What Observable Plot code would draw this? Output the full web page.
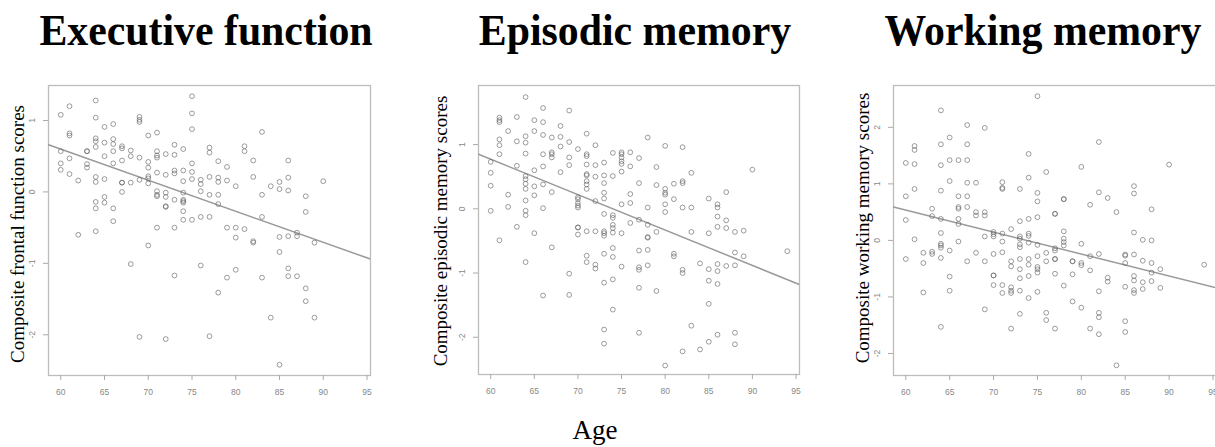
<!DOCTYPE html>
<html>
<head>
<meta charset="utf-8">
<script src="https://cdn.jsdelivr.net/npm/d3@7"></script>
<script src="https://cdn.jsdelivr.net/npm/@observablehq/plot@0.6"></script>
<style>
  html, body { margin: 0; padding: 0; background: #fff; overflow: hidden; }
  #root { position: relative; width: 1215px; height: 447px; overflow: hidden;
          font-family: "Liberation Serif", "Times New Roman", serif; color: #000; }
  .title { position: absolute; top: 9px; font-weight: bold; font-size: 44px; line-height: 1;
           white-space: nowrap; transform: translateX(-50%) scaleX(0.95); transform-origin: 50% 50%; }
  .ylab { position: absolute; font-size: 19px; line-height: 1; white-space: nowrap;
          transform: translate(-50%, -50%) rotate(-90deg); }
  .xlab { position: absolute; font-size: 27px; line-height: 1; white-space: nowrap;
          transform: translateX(-50%); }
  .panel { position: absolute; }
</style>
</head>
<body>
<div id="root"></div>
<script>
// ---------- data ----------
const panelTitles = ["Executive function", "Episodic memory", "Working memory"];
const yLabels = ["Composite frontal function scores", "Composite episodic memory scores", "Composite working memory scores"];
const xLabel = "Age";
const xTicks = [60, 65, 70, 75, 80, 85, 90, 95];

// Executive function: ages and the scores observed at each age
const efAges = [60, 61, 62, 63, 64, 65, 66, 67, 68, 69, 70, 71, 72, 73, 74, 75, 76, 77, 78, 79, 80, 81, 82, 83, 84, 85, 86, 87, 88, 89, 90];
const efScores = [
  [1.08, 0.57, 0.40, 0.31],
  [1.20, 0.82, 0.79, 0.47, 0.25],
  [0.16, -0.60],
  [0.57, 0.57, 0.39, 0.34],
  [1.28, 1.04, 0.75, 0.71, 0.63, 0.21, 0.14, -0.14, -0.23, -0.55],
  [0.91, 0.69, 0.50, 0.18, -0.07, -0.15],
  [0.95, 0.74, 0.67, 0.57, 0.40, -0.23, -0.41],
  [0.64, 0.61, 0.44, 0.13, 0.13, 0.00],
  [0.58, 0.50, 0.13, -1.01],
  [1.05, 1.01, 0.98, 0.48, 0.17, -2.03],
  [0.79, 0.42, 0.34, 0.22, 0.19, 0.12, -0.75],
  [0.83, 0.57, 0.51, 0.48, 0.27, 0.01, -0.04, -0.06, -0.50],
  [0.53, 0.24, -0.01, -0.07, -0.20, -0.21, -2.06],
  [0.66, 0.52, 0.30, 0.26, -0.11, -0.50, -1.17],
  [0.60, 0.30, 0.15, -0.01, -0.11, -0.13, -0.15, -0.27, -0.39],
  [1.34, 1.10, 0.88, 0.40, 0.28, 0.18, -0.39],
  [0.17, 0.11, 0.01, -0.35, -1.03],
  [0.62, 0.55, 0.21, -0.04, -0.35, -2.02],
  [0.43, 0.20, 0.14, -0.04, -0.17, -1.41],
  [0.35, 0.16, -0.50, -1.20],
  [0.08, -0.50, -0.64, -1.09],
  [0.64, 0.57, -0.52],
  [0.44, 0.21, -0.69, -0.71],
  [0.84, -0.04, -0.35, -1.20],
  [0.08, -1.76],
  [0.14, 0.04, -0.63, -0.84, -2.42],
  [0.44, 0.20, 0.02, -0.62, -1.07, -1.18],
  [-0.57, -0.62, -1.18],
  [-0.06, -0.28, -1.35, -1.53],
  [-0.71, -1.76],
  [0.15]
];

// Episodic memory
const emAges = [60, 61, 62, 63, 64, 65, 66, 67, 68, 69, 70, 71, 72, 73, 74, 75, 76, 77, 78, 79, 80, 81, 82, 83, 84, 85, 86, 87, 88, 89, 90, 94];
const emScores = [
  [0.73, 0.56, 0.36, -0.03],
  [1.42, 1.38, 1.35, 1.08, 0.99, 0.85, -0.49],
  [1.21, 0.22, 0.03],
  [1.43, 1.05, 0.67, -0.28],
  [1.74, 1.13, 1.03, 0.86, 0.51, 0.46, 0.39, 0.31, 0.13, -0.03, -0.10, -0.83],
  [1.38, 1.21, 0.60, 0.35, 0.21, -0.38],
  [1.57, 1.35, 1.15, 0.85, 0.66, 0.38, 0.01, -1.35],
  [1.11, 0.88, 0.85, 0.80, 0.26, -0.60],
  [1.29, 1.12, 0.97, 0.57],
  [1.53, 1.04, 0.80, 0.68, -1.01, -1.34],
  [0.93, 0.18, 0.15, 0.09, 0.05, 0.02, -0.29, -0.29, -0.40],
  [1.17, 0.85, 0.82, 0.69, 0.54, 0.52, 0.43, 0.38, 0.31, -0.35, -0.73, -0.83],
  [0.99, 0.68, 0.50, 0.12, -0.35, -0.87, -0.93],
  [0.72, 0.52, 0.40, 0.25, 0.16, -0.08, -0.35, -0.38, -0.42, -0.70, -1.15, -1.88, -2.10],
  [0.87, 0.51, -0.10, -0.14, -0.25, -0.30, -0.37, -0.61, -0.75, -1.10, -1.57],
  [0.88, 0.85, 0.80, 0.74, 0.70, 0.58, 0.07, -0.38, -0.90],
  [0.88, 0.66, 0.23, 0.09, -0.22],
  [0.79, 0.40, -0.17, -0.65, -0.91, -0.95, -1.23, -1.93],
  [1.11, 0.02, -0.25, -0.44, -0.45, -0.64, -0.88],
  [0.65, 0.37, -0.36, -1.28],
  [0.98, 0.31, 0.25, 0.22, 0.07, -0.05, -2.44],
  [0.39, 0.15, -0.70, -0.74],
  [0.96, 0.43, 0.40, 0.02, -0.95, -1.00, -2.22],
  [0.56, 0.02, -0.36, -1.82],
  [-0.85, -2.19],
  [0.16, -0.38, -0.94, -1.12, -1.48, -2.07],
  [0.07, 0.02, -0.12, -0.28, -0.86, -0.97, -1.17, -1.96],
  [0.26, -0.18, -0.30, -0.89],
  [-0.36, -0.68, -0.88, -1.93, -2.11],
  [-0.34, -0.74],
  [0.61],
  [-0.66]
];

// Working memory
const wmAges = [60, 61, 62, 63, 64, 65, 66, 67, 68, 69, 70, 71, 72, 73, 74, 75, 76, 77, 78, 79, 80, 81, 82, 83, 84, 85, 86, 87, 88, 89, 90, 94];
const wmScores = [
  [1.37, 0.78, 0.36, -0.33],
  [1.67, 1.60, 1.35, 0.91, 0.02],
  [-0.22, -0.40, -0.92],
  [0.56, 0.43, -0.20, -0.24],
  [2.30, 1.70, 1.33, 0.88, 0.38, 0.13, -0.06, -0.09, -0.13, -0.31, -1.53],
  [1.82, 1.42, 1.05, -0.18, -0.64, -0.89],
  [1.42, 0.78, 0.59, 0.56, 0.38, 0.29, -0.02],
  [2.04, 1.70, 1.42, 1.02, 0.78, 0.59, -0.37],
  [1.02, 0.50, 0.44, -0.22],
  [1.99, 0.50, 0.44, 0.07, -0.37, -1.22],
  [0.15, 0.11, 0.07, -0.24, -0.62, -0.62, -0.79],
  [1.03, 0.93, 0.91, 0.12, -0.02, -0.21, -0.79, -0.93],
  [0.20, -0.37, -0.46, -0.83, -0.89, -0.93, -1.56],
  [0.91, 0.34, 0.07, 0.03, -0.07, -0.12, -0.33, -0.51, -0.67, -0.89, -1.30],
  [1.53, 1.11, 0.38, 0.12, 0.08, -0.04, -0.33, -0.43, -0.63, -1.02],
  [2.55, 0.84, 0.69, 0.41, -0.08, -0.28, -0.47, -0.51, -0.57, -0.91],
  [1.21, -0.22, -0.37, -1.28, -1.41],
  [0.47, 0.47, -0.14, -0.18, -0.33, -0.33, -0.59, -1.56],
  [0.73, 0.73, 0.16, 0.03, -0.03, -0.09, -0.80],
  [-0.37, -0.37, -0.60, -1.08],
  [1.30, -0.06, -0.40, -0.44, -1.19],
  [0.63, -0.28, -0.53, -1.56],
  [1.74, 0.85, -0.24, -0.90, -1.28, -1.36, -1.66],
  [0.75, -0.66, -0.73],
  [0.50, -2.21],
  [-0.25, -0.27, -0.40, -0.82, -1.43, -1.62],
  [0.96, 0.83, 0.14, -0.25, -0.63, -0.71, -0.88, -0.93],
  [0.01, -0.36, -0.74, -0.86],
  [0.55, 0.00, -0.40, -0.57, -0.72],
  [-0.51, -0.84],
  [1.34],
  [-0.43]
];

// fitted regression lines: value at each end of the age axis
const fitAges = [58.6, 95.4];
const efFit = [0.66, -0.94];
const emFit = [0.85, -1.18];
const wmFit = [0.59, -0.84];

// axis ranges and ticks
const xDomain = [58.6, 95.4];
const efYDomain = [-2.57, 1.49];
const emYDomain = [-2.58, 1.92];
const wmYDomain = [-2.39, 2.74];
const efYTicks = [-2, -1, 0, 1];
const emYTicks = [-2, -1, 0, 1];
const wmYTicks = [-2, -1, 0, 1, 2];

// ---------- drawing ----------
const root = document.getElementById("root");

function toPoints(ages, scores) {
  return ages.flatMap((a, i) => scores[i].map(s => ({age: a, score: s})));
}
function toLine(ages, vals) {
  return ages.map((a, i) => ({age: a, score: vals[i]}));
}

const panels = [
  {ages: efAges, scores: efScores, fit: efFit, yDomain: efYDomain, yTicks: efYTicks,
   box: {l: 48, r: 370, t: 85, b: 375}, titleX: 206, ylabX: 17, ylabY: 234},
  {ages: emAges, scores: emScores, fit: emFit, yDomain: emYDomain, yTicks: emYTicks,
   box: {l: 478, r: 799, t: 85, b: 374}, titleX: 635, ylabX: 440, ylabY: 231},
  {ages: wmAges, scores: wmScores, fit: wmFit, yDomain: wmYDomain, yTicks: wmYTicks,
   box: {l: 893, r: 1216, t: 85, b: 375}, titleX: 1043, ylabX: 862, ylabY: 228}
];

const mL = 40, mR = 10, mT = 10, mB = 40;

panels.forEach((p, i) => {
  const w = p.box.r - p.box.l + mL + mR;
  const h = p.box.b - p.box.t + mT + mB;
  const chart = Plot.plot({
    width: w,
    height: h,
    marginLeft: mL, marginRight: mR, marginTop: mT, marginBottom: mB,
    x: {domain: xDomain},
    y: {domain: p.yDomain},
    style: {background: "transparent", fontFamily: "'Liberation Sans', Arial, sans-serif", fontSize: "8.5px", overflow: "visible"},
    marks: [
      Plot.frame({stroke: "#bdbdbd", strokeWidth: 1.3}),
      Plot.axisX({ticks: xTicks, tickSize: 5, tickPadding: 8, label: null, stroke: "#aaa", fill: "#888", tickFormat: d => String(d)}),
      Plot.axisY({ticks: p.yTicks, tickSize: 5, tickPadding: 9, tickRotate: -90, label: null, stroke: "#aaa", fill: "#888", tickFormat: d => String(d)}),
      Plot.line(toLine(fitAges, p.fit), {x: "age", y: "score", stroke: "#9a9a9a", strokeWidth: 1.5, clip: true}),
      Plot.dot(toPoints(p.ages, p.scores), {x: "age", y: "score", r: 2.4, stroke: "#5a5a5a", strokeWidth: 0.8, strokeOpacity: 0.75, fill: "none"})
    ]
  });
  chart.classList.add("panel");
  chart.style.left = (p.box.l - mL) + "px";
  chart.style.top = (p.box.t - mT) + "px";
  root.appendChild(chart);

  const t = document.createElement("div");
  t.className = "title";
  t.textContent = panelTitles[i];
  t.style.left = p.titleX + "px";
  root.appendChild(t);

  const yl = document.createElement("div");
  yl.className = "ylab";
  yl.textContent = yLabels[i];
  yl.style.left = p.ylabX + "px";
  yl.style.top = p.ylabY + "px";
  root.appendChild(yl);
});

const xl = document.createElement("div");
xl.className = "xlab";
xl.textContent = xLabel;
xl.style.left = "595px";
xl.style.top = "417px";
root.appendChild(xl);
</script>
</body>
</html>
